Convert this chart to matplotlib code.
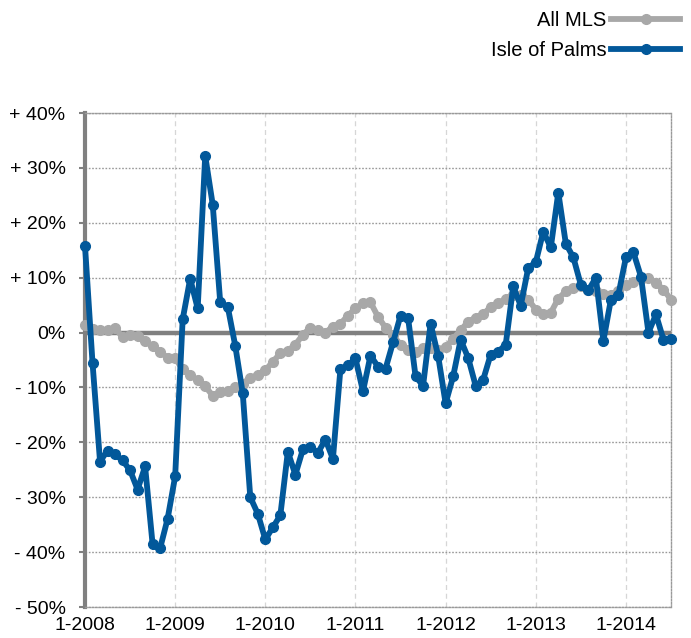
import matplotlib
matplotlib.use("Agg")
import matplotlib.pyplot as plt
import numpy as np

plt.rcParams['font.family'] = ['Liberation Sans', 'DejaVu Sans']

# Monthly values, Jan 2008 .. Jul 2014 (percent)
all_mls = [1.3, 0.7, 0.5, 0.4, 0.9, -0.9, -0.4, -0.7, -1.6, -2.5, -3.5, -4.6,
           -4.7, -6.7, -7.7, -8.7, -9.8, -11.5, -10.9, -10.7, -10.0, -9.3, -8.2, -7.8,
           -6.9, -5.3, -3.8, -3.3, -2.2, -0.4, 0.9, 0.4, 0.0, 1.1, 1.6, 3.1,
           4.4, 5.3, 5.5, 2.9, 0.9, -0.5, -2.2, -3.1, -3.5, -2.9, -2.9, -3.1,
           -2.7, -1.1, 0.4, 2.0, 2.7, 3.3, 4.7, 5.3, 6.2, 6.9, 6.9, 6.0,
           4.2, 3.3, 3.6, 6.2, 7.5, 8.2, 8.4, 7.7, 7.5, 7.1, 6.9, 7.5,
           8.6, 9.3, 9.8, 10.0, 9.1, 7.8, 6.0]
isle_of_palms = [15.8, -5.5, -23.5, -21.5, -22.2, -23.3, -25.1, -28.6, -24.4, -38.6, -39.3, -33.9,
                 -26.2, 2.4, 9.8, 4.4, 32.2, 23.3, 5.5, 4.7, -2.4, -11.1, -30.0, -33.0,
                 -37.7, -35.5, -33.3, -21.7, -25.9, -21.3, -20.8, -21.9, -19.5, -23.0, -6.6, -6.0,
                 -4.7, -10.7, -4.2, -6.2, -6.6, -1.8, 3.1, 2.7, -8.0, -9.7, 1.6, -4.2,
                 -12.9, -8.0, -1.3, -4.6, -9.7, -8.6, -4.0, -3.5, -2.2, 8.4, 4.9, 11.8,
                 12.8, 18.4, 15.5, 25.5, 16.2, 13.7, 8.7, 7.7, 10.0, -1.5, 6.0, 6.9,
                 13.7, 14.6, 10.2, 0.0, 3.3, -1.3, -1.1]
x_tick_labels = ['1-2008', '1-2009', '1-2010', '1-2011', '1-2012', '1-2013', '1-2014']
y_ticks = [40, 30, 20, 10, 0, -10, -20, -30, -40, -50]

def ylab(v):
    if v > 0:
        return f'+ {v}%'
    if v < 0:
        return f'- {abs(v)}%'
    return '0%'

fig = plt.figure(figsize=(6.91, 6.38), dpi=100)
ax = fig.add_axes([85/691, 1-607/638, (671-85)/691, (607-113)/638])

x = np.arange(len(all_mls))
ax.axhline(0, color='#808080', lw=3.2, zorder=2)
l1, = ax.plot(x, all_mls, color='#A8A8A8', lw=4.2, marker='o', ms=7,
              solid_joinstyle='round', zorder=3, label='All MLS', clip_on=False)
l2, = ax.plot(x, isle_of_palms, color='#02589A', lw=4.2, marker='o', ms=7,
              solid_joinstyle='round', zorder=4, label='Isle of Palms', clip_on=False)

ax.set_xlim(0, len(all_mls) - 1)
ax.set_ylim(-50, 40)
ax.set_yticks(y_ticks)
ax.set_yticklabels([ylab(v) for v in y_ticks])
ax.set_xticks(np.arange(len(x_tick_labels)) * 12)
ax.set_xticklabels(x_tick_labels)

ax.grid(axis='y', color='#999999', ls=(0, (1.2, 1.2)), lw=1.0, zorder=1)
ax.grid(axis='x', color='#D6D6D6', ls=(0, (4, 3)), lw=0.9, zorder=1)
for s in ['top', 'right', 'bottom']:
    ax.spines[s].set_color('#999999')
    ax.spines[s].set_linestyle((0, (1.2, 1.2)))
    ax.spines[s].set_linewidth(1.0)
ax.spines['left'].set_color('#808080')
ax.spines['left'].set_linewidth(3)
ax.tick_params(axis='y', length=4, width=1.5, color='#808080', labelsize=14, pad=10)
ax.tick_params(axis='x', length=0, labelsize=14, pad=7)

fig.legend(handles=[l1, l2], loc='upper right', bbox_to_anchor=(1.0, 1.0),
           frameon=False, markerfirst=False, numpoints=1, fontsize=14.5,
           handlelength=3.4, handletextpad=0.25, labelspacing=0.55, borderaxespad=0.15)

fig.savefig('out.png', dpi=100)
